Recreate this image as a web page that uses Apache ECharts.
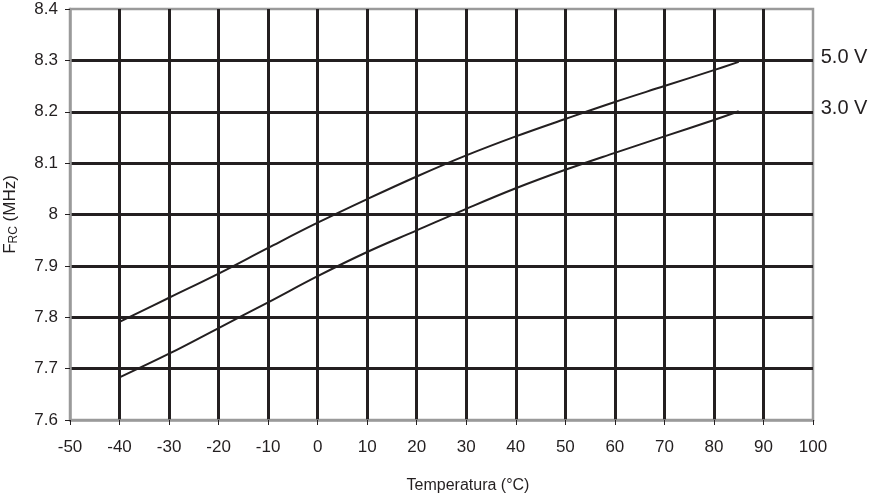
<!DOCTYPE html>
<html>
<head>
<meta charset="utf-8">
<script src="https://cdn.jsdelivr.net/npm/echarts@6/dist/echarts.min.js"></script>
<style>
  html, body { margin: 0; padding: 0; background: #fff; }
  #chart { width: 872px; height: 494px; }
</style>
</head>
<body>
<div id="chart"></div>
<script>
// temperature points (°C)
var temps = [-40, -30, -20, -10, 0, 10, 20, 30, 40, 50, 60, 70, 80, 85];
// FRC (MHz) at 5.0 V and 3.0 V
var v50 = [7.791, 7.838, 7.885, 7.935, 7.984, 8.030, 8.074, 8.115, 8.152, 8.186, 8.219, 8.250, 8.281, 8.297];
var v30 = [7.683, 7.729, 7.779, 7.829, 7.880, 7.927, 7.969, 8.011, 8.051, 8.087, 8.120, 8.152, 8.184, 8.201];
var seriesNames = ['5.0 V', '3.0 V'];

var ink = '#231f20';
var frame = '#9a9a9a';
var font = 'Liberation Sans, Arial, sans-serif';

function pairs(xs, ys) {
    return xs.map(function (x, i) { return [x, ys[i]]; });
}

var chart = echarts.init(document.getElementById('chart'));

var curve = function (name, values, dy) {
    return {
        name: name,
        type: 'line',
        data: pairs(temps, values),
        smooth: 0.4,
        symbol: 'none',
        lineStyle: { color: ink, width: 2 },
        endLabel: {
            show: true,
            formatter: name,
            color: ink,
            fontFamily: font,
            fontSize: 20,
            offset: [74, dy]
        },
        z: 5
    };
};

chart.setOption({
    animation: false,
    backgroundColor: '#fff',
    grid: {
        left: 70, right: 59, top: 9, bottom: 74,
        outerBoundsMode: 'none',
        containLabel: false,
        show: true,
        borderColor: frame,
        borderWidth: 2.5
    },
    xAxis: {
        type: 'value',
        min: -50, max: 100, interval: 10,
        name: 'Temperatura (°C)',
        nameLocation: 'middle',
        nameGap: 58,
        nameTextStyle: { color: ink, fontFamily: font, fontSize: 16, padding: [0, 0, 0, 53] },
        axisLine: { show: true, onZero: false, lineStyle: { color: frame, width: 2.5 } },
        axisTick: { show: true, length: 5, lineStyle: { color: ink, width: 1 } },
        axisLabel: { color: ink, fontFamily: font, fontSize: 17, margin: 19 },
        splitLine: {
            show: true, showMinLine: false, showMaxLine: false,
            lineStyle: { color: ink, width: 3 }
        }
    },
    yAxis: {
        type: 'value',
        min: 7.6, max: 8.4, interval: 0.1,
        name: '{f|F}{s|RC}{f| (MHz)}',
        nameLocation: 'middle',
        nameRotate: 90,
        nameGap: 50,
        nameTextStyle: {
            color: ink,
            rich: {
                f: { fontFamily: font, fontSize: 17, color: ink },
                s: { fontFamily: font, fontSize: 12, color: ink, verticalAlign: 'bottom', padding: [7, 0, 0, 0] }
            }
        },
        axisLine: { show: true, onZero: false, lineStyle: { color: frame, width: 2.5 } },
        axisTick: { show: true, length: 5, lineStyle: { color: ink, width: 1 } },
        axisLabel: { color: ink, fontFamily: font, fontSize: 17, margin: 12 },
        splitLine: {
            show: true, showMinLine: false, showMaxLine: false,
            lineStyle: { color: ink, width: 3 }
        }
    },
    series: [
        curve(seriesNames[0], v50, -4),
        curve(seriesNames[1], v30, -3)
    ]
});
</script>
</body>
</html>
